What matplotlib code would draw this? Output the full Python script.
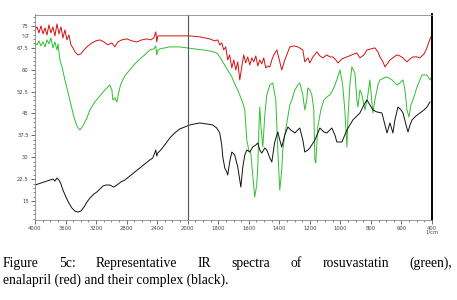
import numpy as np
import matplotlib
matplotlib.use("Agg")
import matplotlib.pyplot as plt
from matplotlib.ticker import FixedLocator, MultipleLocator
import matplotlib.transforms as mtransforms

# --- spectra (wavenumber 1/cm, %T) ---
red_wn = [4000, 3974, 3948, 3922, 3895, 3869, 3843, 3817, 3791, 3765, 3739, 3712, 3686, 3660, 3634,
          3608, 3582, 3556, 3529, 3503, 3477, 3438, 3399, 3359, 3307, 3255, 3203, 3150, 3098, 3046,
          2993, 2954, 2915, 2863, 2797, 2732, 2667, 2601, 2536, 2484, 2444, 2418, 2405, 2392, 2366,
          2235, 2105, 1987,
          1921, 1889, 1856, 1823, 1803, 1790, 1777, 1764, 1751, 1738, 1725, 1711, 1698, 1685, 1672,
          1659, 1646, 1633, 1620, 1607, 1593, 1580, 1567, 1554, 1541, 1528, 1515, 1502, 1489, 1475,
          1462, 1449, 1436, 1416, 1397, 1384, 1364, 1344, 1331, 1305, 1279, 1246, 1233, 1213, 1200,
          1180, 1154, 1134, 1115, 1089, 1069, 1049, 1030, 1016, 990, 957, 925, 892, 872, 846,
          826, 800, 774, 754, 741, 721, 708, 689, 675, 649, 630, 610, 590, 564, 544,
          525, 498, 479, 452, 433, 420, 407]
red_t = [73.63, 74.66, 72.6, 75.0, 72.26, 74.31, 71.91, 75.34, 72.6, 74.66, 71.57, 75.69, 72.26, 74.66, 70.88,
         73.63, 70.2, 71.91, 68.49, 67.46, 66.09, 65.06, 65.4, 66.77, 68.14, 69.17, 69.86, 70.2, 69.51, 68.49,
         69.17, 67.8, 69.51, 70.2, 70.54, 69.86, 69.51, 70.2, 70.54, 70.2, 70.88, 72.94, 69.51, 71.57, 71.57,
         71.57, 71.57, 71.57,
         71.23, 70.88, 70.54, 69.86, 70.2, 68.49, 69.17, 66.77, 67.8, 63.34, 65.06, 60.6, 63.34, 59.91, 62.66,
         56.48, 60.94, 65.06, 62.31, 64.37, 61.63, 64.03, 62.66, 64.71, 61.28, 63.34, 61.97, 64.03, 60.6, 61.28,
         60.94, 63.34, 65.06, 66.77, 62.66, 59.91, 63.34, 66.09, 67.8, 68.14, 67.8, 66.77, 62.66, 64.03, 62.31,
         64.37, 66.09, 64.71, 64.03, 65.06, 64.37, 64.37, 63.34, 62.31, 63.68, 64.37, 65.06, 65.74, 64.03, 65.06,
         66.77, 67.11, 67.46, 66.09, 64.37, 62.66, 60.94, 62.31, 63.34, 64.37, 65.06, 64.71, 64.03, 62.66, 63.68,
         64.37, 64.37, 64.03, 65.4, 67.46, 69.51, 71.23]

green_wn = [4000, 3974, 3948, 3922, 3895, 3869, 3843, 3817, 3791, 3765, 3739, 3712, 3699, 3673, 3647,
            3608, 3569, 3529, 3490, 3451, 3412, 3373, 3320, 3281, 3216, 3150, 3085, 3020, 2993, 2980,
            2954, 2928, 2902, 2876, 2824, 2758, 2693, 2627, 2562, 2497, 2444, 2418, 2405, 2392, 2366,
            2301, 2235, 2105, 2013,
            1954, 1902, 1856, 1810, 1790, 1770, 1751, 1731, 1711, 1692, 1672, 1652, 1639, 1626, 1613,
            1600, 1587, 1574, 1561, 1548, 1541, 1534, 1528, 1521, 1508, 1495, 1482, 1462, 1443, 1423,
            1410, 1397, 1384, 1377, 1364, 1344, 1331, 1318, 1298, 1279, 1266, 1246, 1233, 1220, 1213,
            1200, 1187, 1174, 1167, 1161, 1148, 1128, 1108, 1089, 1069, 1049, 1023, 1003, 990, 984,
            971, 957, 951, 938, 925, 905, 892, 885, 872, 859, 839, 820, 807, 787, 774,
            754, 741, 715, 695, 662, 630, 610, 590, 577, 564, 551, 538, 525, 498, 479,
            466, 433, 413, 407]
green_t = [69.17, 68.49, 69.86, 68.14, 69.51, 67.8, 70.2, 68.83, 70.88, 67.46, 69.51, 66.77, 68.83, 63.34, 60.94,
           56.48, 52.37, 47.91, 43.8, 40.71, 39.34, 40.71, 43.45, 46.2, 48.94, 51.0, 53.05, 54.77, 53.05, 49.62,
           50.31, 48.94, 52.37, 55.11, 57.85, 59.91, 61.97, 63.68, 65.06, 66.77, 67.11, 68.14, 65.06, 66.43, 67.11,
           67.46, 67.8, 67.8, 67.46,
           67.11, 66.77, 66.43, 65.74, 64.37, 62.66, 60.94, 59.22, 57.51, 55.11, 53.05, 50.31, 48.6, 46.2, 35.91,
           32.48, 31.45, 23.91, 16.36, 20.48, 26.65, 39.34, 47.22, 41.05, 33.51, 44.48, 51.34, 54.77, 55.45, 49.62,
           32.48, 18.76, 25.62, 32.48, 37.62, 43.8, 47.91, 49.62, 53.05, 54.77, 55.45, 51.34, 46.2, 49.62, 53.74,
           53.05, 51.34, 46.2, 29.05, 28.02, 40.37, 46.2, 49.62, 50.65, 51.34, 53.05, 56.48, 59.91, 56.48, 54.08,
           46.2, 33.51, 42.77, 54.77, 60.94, 58.88, 49.62, 47.22, 53.05, 51.34, 46.2, 51.34, 56.48, 45.17, 49.62,
           54.77, 56.48, 57.17, 57.51, 56.48, 54.77, 55.45, 56.48, 53.05, 46.2, 43.8, 47.91, 49.62, 54.08, 56.48,
           58.19, 58.19, 56.48, 57.17]

black_wn = [4000, 3961, 3922, 3882, 3843, 3804, 3765, 3739, 3712, 3686, 3660, 3634, 3595, 3556, 3516,
            3477, 3438, 3399, 3359, 3320, 3281, 3229, 3190, 3150, 3111, 3072, 3020, 2967, 2928, 2876,
            2824, 2758, 2693, 2627, 2562, 2497, 2458, 2418, 2405, 2392, 2353, 2301, 2235, 2170, 2105,
            2039,
            1987, 1954, 1921, 1875, 1836, 1810, 1790, 1777, 1770, 1757, 1744, 1738, 1725, 1711, 1692,
            1672, 1652, 1639, 1626, 1613, 1593, 1574, 1554, 1541, 1528, 1515, 1495, 1482, 1462, 1449,
            1430, 1410, 1397, 1384, 1364, 1344, 1325, 1298, 1279, 1266, 1246, 1233, 1213, 1200, 1167,
            1134, 1108, 1089, 1056, 1036, 1023, 990, 971, 957, 938, 918, 892, 872, 846, 826,
            807, 787, 761, 728, 708, 695, 675, 656, 643, 623, 603, 590, 570, 557, 544,
            531, 505, 479, 452, 433, 413]
black_t = [20.48, 20.82, 21.16, 21.51, 21.85, 22.19, 22.53, 21.85, 22.88, 22.19, 20.82, 18.76, 16.36, 14.31, 12.59,
           11.56, 11.22, 11.56, 12.93, 14.65, 16.02, 17.39, 18.08, 19.11, 20.13, 20.48, 20.48, 19.79, 20.48, 21.51,
           22.19, 23.56, 24.94, 26.31, 27.68, 29.05, 29.74, 32.48, 30.42, 31.45, 32.48, 34.19, 36.59, 38.31, 39.68,
           40.37,
           41.05, 41.4, 41.74, 41.4, 41.05, 40.02, 38.31, 34.19, 30.08, 26.31, 24.94, 23.91, 28.37, 31.79, 30.77,
           26.65, 19.79, 26.65, 30.77, 32.48, 31.79, 33.51, 34.19, 34.88, 32.48, 31.45, 33.17, 32.48, 29.74, 28.37,
           35.22, 38.65, 35.91, 33.51, 37.62, 40.37, 39.34, 38.31, 39.34, 40.02, 35.91, 31.79, 32.48, 33.17, 35.91,
           40.02, 38.65, 38.31, 40.02, 37.62, 35.22, 35.22, 37.62, 39.34, 41.05, 42.77, 44.14, 45.17, 47.91, 49.62,
           47.91, 46.2, 45.51, 45.17, 41.05, 38.31, 41.74, 38.31, 42.77, 47.22, 46.2, 45.17, 41.05, 38.65, 41.05,
           42.77, 44.14, 45.17, 46.2, 47.22, 48.94]

x_major = [4000, 3600, 3200, 2800, 2400, 2000, 1800, 1600, 1400, 1200, 1000, 800, 600, 400]
y_major = [15, 22.5, 30, 37.5, 45, 52.5, 60, 67.5, 75]
y_labels = ["15", "22.5", "30", "37.5", "45", "52.5", "60", "67.5", "75"]

caption_1 = ["Figure", "5c:", "Representative", "IR", "spectra", "of", "rosuvastatin", "(green),"]
caption_2 = "enalapril (red) and their complex (black)."


# x axis: 4000-2000 is compressed to half the scale of 2000-400
def fwd(w):
    w = np.asarray(w, dtype=float)
    return np.where(w <= 2000, w, 2000 + (w - 2000) * 0.5)


def inv(p):
    p = np.asarray(p, dtype=float)
    return np.where(p <= 2000, p, 2000 + (p - 2000) * 2.0)


fig = plt.figure(figsize=(4.57, 3.0), dpi=100, facecolor="white")
ax = fig.add_axes([35 / 457, 80 / 300, 397 / 457, 205.5 / 300])
ax.set_xscale("function", functions=(fwd, inv))

ax.plot(red_wn, red_t, color="#d41010", lw=0.7)
ax.plot(green_wn, green_t, color="#2fbf2f", lw=0.7)
ax.plot(black_wn, black_t, color="#111111", lw=0.7)

ax.axvline(2000, color="#555555", lw=0.8)

ax.set_xlim(4000, 400)
ax.set_ylim(8.5, 78.9)

ax.xaxis.set_major_locator(FixedLocator(x_major))
ax.set_xticklabels([str(v) for v in x_major])
ax.xaxis.set_minor_locator(FixedLocator(list(np.arange(2100, 4000, 100)) + list(np.arange(450, 2000, 50))))
ax.yaxis.set_major_locator(FixedLocator(y_major))
ax.set_yticklabels(y_labels)
ax.yaxis.set_minor_locator(MultipleLocator(1.5))

ax.tick_params(which="major", length=3, width=0.6, color="#555555", labelsize=3.8,
               labelcolor="#444444", pad=1.5)
ax.tick_params(which="minor", length=1.6, width=0.5, color="#555555")

for side in ["left", "bottom", "top"]:
    ax.spines[side].set_color("#888888")
    ax.spines[side].set_linewidth(0.6)
ax.spines["right"].set_color("black")
ax.spines["right"].set_linewidth(1.4)

ax.text(-0.012, 71.2, "%T", transform=mtransforms.blended_transform_factory(ax.transAxes, ax.transData),
        ha="right", va="center", fontsize=3.8, color="#444444")
ax.text(400, -0.06, "1/cm", transform=mtransforms.blended_transform_factory(ax.transData, ax.transAxes),
        ha="center", va="center", fontsize=3.8, color="#444444")

# caption, first line justified across the width
cap_font = dict(family="Liberation Serif", fontsize=9.8, color="black")
renderer = fig.canvas.get_renderer()
words = [fig.text(0, 1 - 267 / 300, w, ha="left", va="baseline", **cap_font) for w in caption_1]
widths = [t.get_window_extent(renderer).width for t in words]
left, right = 3.0, 452.0
gap = (right - left - sum(widths)) / (len(words) - 1)
x = left
for t, wd in zip(words, widths):
    t.set_x(x / 457)
    x += wd + gap
fig.text(3 / 457, 1 - 284 / 300, caption_2, ha="left", va="baseline", **cap_font)

fig.savefig("out.png", dpi=100, facecolor="white")
